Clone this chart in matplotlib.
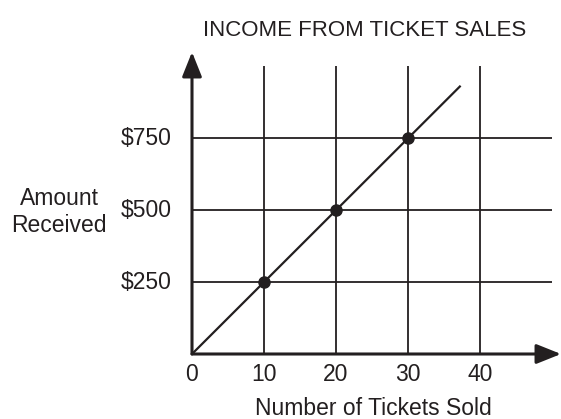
import matplotlib.pyplot as plt

plt.rcParams['font.family'] = ['Liberation Sans', 'DejaVu Sans']

tickets = [10, 20, 30]
amounts = [250, 500, 750]
x_ticks = [0, 10, 20, 30, 40]
y_ticks = [250, 500, 750]
y_labels = ['$250', '$500', '$750']
price = 25  # dollars per ticket
line_end = 37.2

ink = '#231f20'

fig = plt.figure(figsize=(5.61, 4.19), dpi=100)
ax = fig.add_axes((192 / 561, 65 / 419, 369 / 561, 302 / 419))
ax.set_xlim(0, 51.25)
ax.set_ylim(0, 1050)
ax.axis('off')

# grid
for xv in x_ticks[1:]:
    ax.plot([xv, xv], [0, 1000], color=ink, lw=1.3, solid_capstyle='butt')
for yv in y_ticks:
    ax.plot([0, 50], [yv, yv], color=ink, lw=1.3, solid_capstyle='butt')

# axes with arrows
arrow = dict(arrowstyle='-|>,head_length=1.5,head_width=0.6',
             color=ink, lw=2.2, shrinkA=0, shrinkB=0)
ax.annotate('', xy=(51.25, 0), xytext=(0, 0), arrowprops=arrow, annotation_clip=False)
ax.annotate('', xy=(0, 1050), xytext=(0, 0), arrowprops=arrow, annotation_clip=False)

# data line and points
ax.plot([0, line_end], [0, line_end * price], color=ink, lw=1.6)
ax.plot(tickets, amounts, 'o', color=ink, ms=8)

# tick labels
for xv in x_ticks:
    ax.text(xv, -71, str(xv), ha='center', va='center', fontsize=16.5, color=ink)
for yv, lab in zip(y_ticks, y_labels):
    ax.text(-2.8, yv, lab, ha='right', va='center', fontsize=16.5, color=ink)

fig.text(373 / 561, 1 - 408 / 419, 'Number of Tickets Sold', ha='center', va='center',
         fontsize=16.5, color=ink)
fig.text(59 / 561, 1 - 212 / 419, 'Amount\nReceived', ha='center', va='center',
         fontsize=16.5, color=ink, linespacing=1.2)
fig.text(365 / 561, 1 - 30 / 419, 'INCOME FROM TICKET SALES', ha='center', va='center',
         fontsize=16, color=ink)

fig.savefig('out.png', dpi=100)
